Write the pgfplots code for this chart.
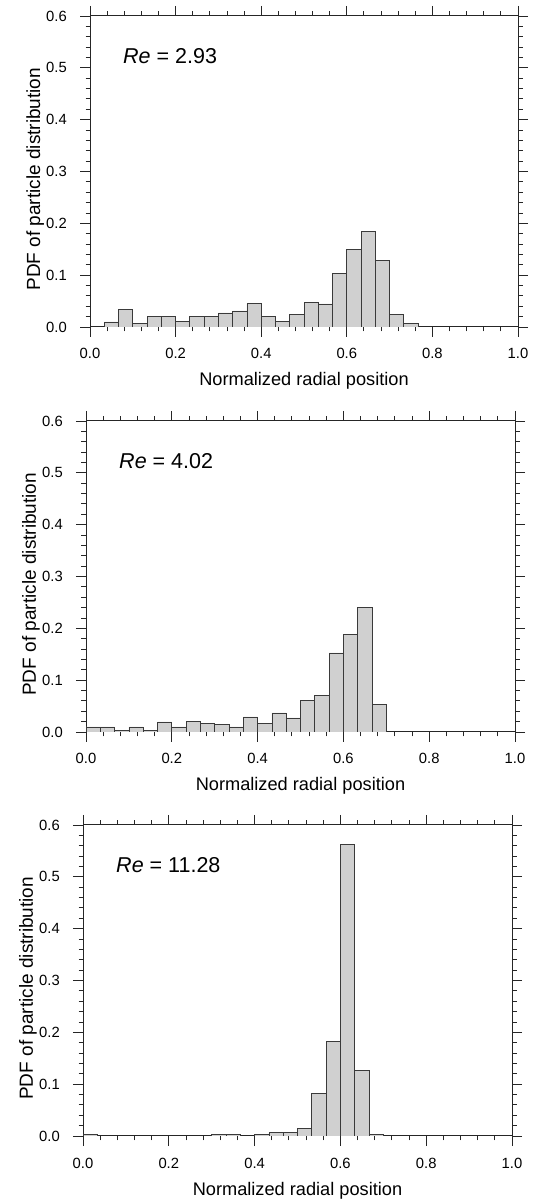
\documentclass[border=0pt]{standalone}
\usepackage{fontspec}
\setmainfont{Liberation Sans}
\usepackage{pgfplots}
\pgfplotsset{compat=1.18}
\definecolor{barfill}{HTML}{D0D0D0}
\definecolor{baredge}{HTML}{3A3A3A}
\newcommand{\tlfont}{\fontsize{14.8}{16}\selectfont}
\pgfplotsset{
  panel/.style={
    scale only axis,
    height=311pt,
    xmin=0, xmax=1, ymin=0, ymax=0.6,
    xtick={0,0.2,0.4,0.6,0.8,1.0},
    ytick={0,0.1,0.2,0.3,0.4,0.5,0.6},
    minor x tick num=4,
    minor y tick num=4,
    tick align=outside,
    tick pos=both,
    xticklabel pos=lower,
    yticklabel pos=left,
    major tick length=10pt,
    minor tick length=4.5pt,
    every tick/.style={line width=0.9pt, black!85},
    axis line style={line width=1pt, black!85},
    xticklabel={\tlfont\pgfmathprintnumber[assume math mode=true,fixed,fixed zerofill,precision=1]{\tick}},
    yticklabel={\tlfont\pgfmathprintnumber[assume math mode=true,fixed,fixed zerofill,precision=1]{\tick}},
    xticklabel style={inner sep=0pt, anchor=base, yshift=-22pt},
    yticklabel style={inner sep=0pt, anchor=east, xshift=-13pt},
    xlabel={Normalized radial position},
    ylabel={PDF of particle distribution},
    xlabel style={at={(axis description cs:0.5,0)}, anchor=base, yshift=-59pt, inner sep=0pt, font=\fontsize{18.2}{20}\selectfont},
    ylabel style={at={(axis description cs:-0.107,0.475)}, anchor=south, inner sep=0pt, font=\fontsize{19}{21}\selectfont},
  },
  hbar/.style={ybar, bar width=0.033333, bar shift=0pt, fill=barfill, draw=baredge, line width=0.8pt},
}
\newcommand{\retext}[1]{\node[anchor=base west, inner sep=0pt, font=\fontsize{21.5}{24}\selectfont] at (axis description cs:0.077,0.847) {\textit{Re} = #1};}
\begin{document}
\begin{tikzpicture}
\useasboundingbox (0,0) rectangle (534pt,1199pt);
% Panel 1
\begin{axis}[panel, width=428pt, at={(90pt,872pt)}, anchor=south west]
\addplot[hbar] coordinates {
(0.05,0.0097) (0.083333,0.0335) (0.116667,0.0065) (0.15,0.020) (0.183333,0.020)
(0.216667,0.010) (0.25,0.020) (0.283333,0.020) (0.316667,0.027) (0.35,0.031)
(0.383333,0.045) (0.416667,0.020) (0.45,0.010) (0.483333,0.024) (0.516667,0.048)
(0.55,0.0445) (0.583333,0.104) (0.616667,0.149) (0.65,0.184) (0.683333,0.128)
(0.716667,0.024) (0.75,0.0065)
};
\retext{2.93}
\end{axis}
% Panel 2
\begin{axis}[panel, width=429pt, at={(86pt,467pt)}, anchor=south west]
\addplot[hbar] coordinates {
(0.016667,0.0097) (0.05,0.0097) (0.083333,0.0026) (0.116667,0.0097) (0.15,0.0026)
(0.183333,0.0193) (0.216667,0.0097) (0.25,0.0212) (0.283333,0.0167) (0.316667,0.0148)
(0.35,0.0097) (0.383333,0.029) (0.416667,0.0167) (0.45,0.0367) (0.483333,0.027)
(0.516667,0.060) (0.55,0.070) (0.583333,0.1525) (0.616667,0.188) (0.65,0.241)
(0.683333,0.053)
};
\retext{4.02}
\end{axis}
% Panel 3
\begin{axis}[panel, width=429pt, at={(83pt,63pt)}, anchor=south west]
\addplot[hbar] coordinates {
(0.016667,0.003) (0.316667,0.003) (0.35,0.003) (0.416667,0.003) (0.45,0.0064)
(0.483333,0.0064) (0.516667,0.0148) (0.55,0.0817) (0.583333,0.183) (0.616667,0.562)
(0.65,0.1268) (0.683333,0.003)
};
\retext{11.28}
\end{axis}
\end{tikzpicture}
\end{document}
